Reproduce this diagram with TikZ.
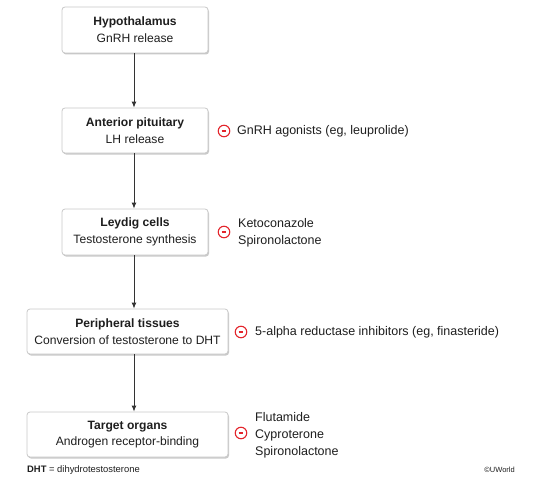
\documentclass[tikz,border=0pt]{standalone}
\usepackage{fontspec}
\setmainfont{Liberation Sans}
\usetikzlibrary{arrows.meta,shadows,positioning}
\definecolor{boxline}{HTML}{C8C8C8}
\definecolor{txt}{HTML}{1E1E1E}
\definecolor{inhib}{HTML}{E3242B}
\definecolor{arrowc}{HTML}{333333}
\tikzset{
  stepbox/.style={draw=boxline, line width=0.8pt, fill=white, rounded corners=3pt,
    align=center, inner sep=0pt, text=txt,
    font=\fontsize{12.1}{16.8}\selectfont,
    drop shadow={shadow xshift=1pt, shadow yshift=-1.5pt, opacity=0.35, fill=black!60}},
  arr/.style={draw=arrowc, line width=0.9pt, -{Latex[length=6pt,width=5pt]}},
  minussign/.style={circle, draw=inhib, line width=1.1pt, minimum size=11.5pt, inner sep=0pt,
    path picture={\draw[inhib,line width=1.3pt] ([xshift=-2.3pt]path picture bounding box.center) -- ([xshift=2.3pt]path picture bounding box.center);}},
  drug/.style={anchor=west, align=left, text=txt, inner sep=0pt,
    font=\fontsize{12.5}{16.8}\selectfont},
  foot/.style={text=txt, inner sep=0pt, font=\fontsize{9.4}{11}\selectfont}
}
\begin{document}
\begin{tikzpicture}[x=1pt,y=-1pt]
\useasboundingbox (0,0) rectangle (551,484);
\node[stepbox, minimum width=146pt, minimum height=46pt] (b1) at (135,30) {\textbf{Hypothalamus}\\GnRH release};
\node[stepbox, minimum width=146pt, minimum height=45pt] (b2) at (135,130.5) {\textbf{Anterior pituitary}\\LH release};
\node[stepbox, minimum width=146pt, minimum height=46pt] (b3) at (135,232) {\textbf{Leydig cells}\\Testosterone synthesis};
\node[stepbox, minimum width=201pt, minimum height=45pt] (b4) at (127.5,331.5) {\textbf{Peripheral tissues}\\Conversion of testosterone to DHT};
\node[stepbox, minimum width=201pt, minimum height=45pt] (b5) at (127.5,434.5) {\textbf{Target organs}\\Androgen receptor-binding};

\draw[arr] ([xshift=-1pt]b1.south) -- ([xshift=-1pt]b2.north);
\draw[arr] ([xshift=-1pt]b2.south) -- ([xshift=-1pt]b3.north);
\draw[arr] ([xshift=-1pt]b3.south) -- ([xshift=6.5pt]b4.north);
\draw[arr] ([xshift=6.5pt]b4.south) -- ([xshift=6.5pt]b5.north);

\node[minussign] (m2) at (224,131) {};
\node[drug] (d2) at (237,131) {GnRH agonists (eg, leuprolide)};
\node[minussign] (m3) at (224,232) {};
\node[drug] (d3) at (238,233) {Ketoconazole\\Spironolactone};
\node[minussign] (m4) at (241,332) {};
\node[drug] (d4) at (255,332) {5-alpha reductase inhibitors (eg, finasteride)};
\node[minussign] (m5) at (241,433) {};
\node[drug] (d5) at (255,435) {Flutamide\\Cyproterone\\Spironolactone};

\node[foot, anchor=west] (f1) at (27,470) {\textbf{DHT} = dihydrotestosterone};
\node[foot, anchor=east] (f2) at (515,470) {\fontsize{7.5}{9}\selectfont ©UWorld};
\end{tikzpicture}
\end{document}
